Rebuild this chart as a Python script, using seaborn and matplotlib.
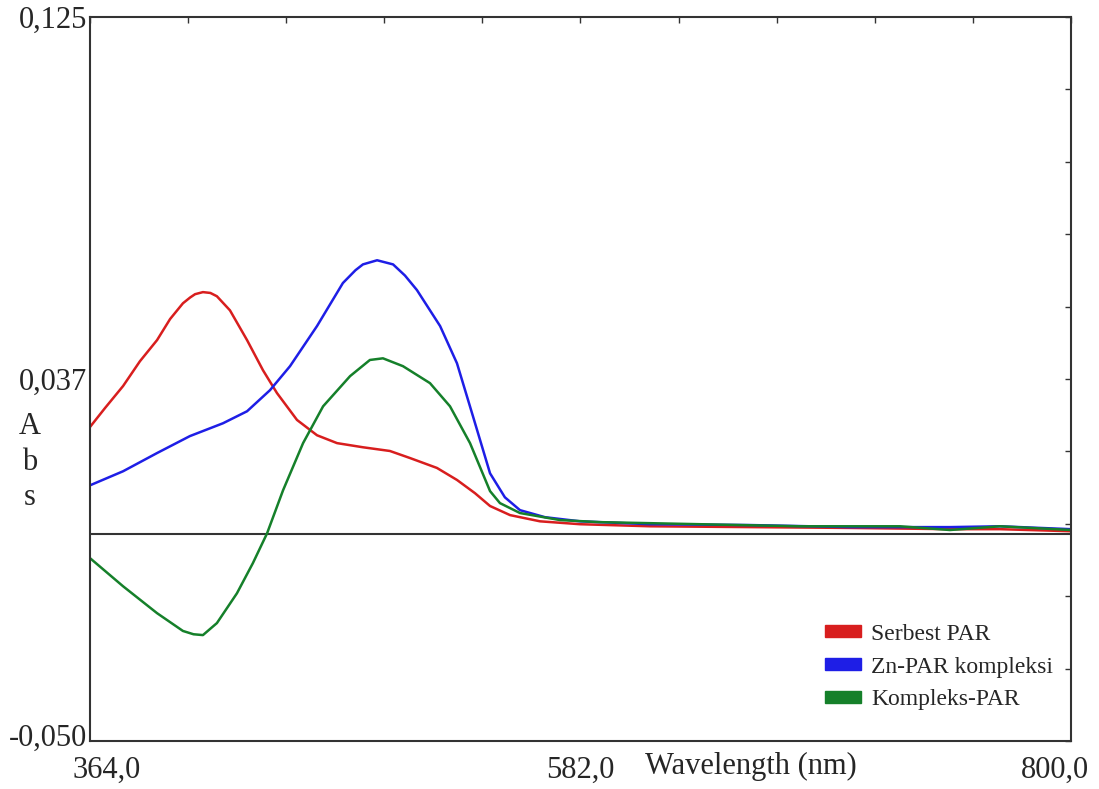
import numpy as np
import pandas as pd
import matplotlib
matplotlib.use("Agg")
import matplotlib.pyplot as plt
import matplotlib.transforms as mtransforms
from matplotlib.patches import Patch
import seaborn as sns

# ---- spectra (wavelength nm, absorbance) ----
red_x = [364.0, 370.7, 378.7, 386.2, 393.8, 399.6, 405.3, 408.5, 410.7, 414.2, 417.5, 420.4,
         426.2, 433.8, 440.9, 447.1, 456.0, 464.9, 473.8, 485.3, 497.3, 506.2,
         518.2, 527.1, 535.1, 541.8, 550.7, 564.0, 581.8, 612.9, 657.3, 701.8,
         746.2, 768.4, 800.0]
red_y = [0.0259, 0.0305, 0.0358, 0.0418, 0.0469, 0.0520, 0.0558, 0.0572, 0.0580, 0.0585, 0.0583, 0.0575,
         0.0541, 0.0469, 0.0396, 0.0341, 0.0276, 0.0239, 0.0220, 0.0210, 0.0201, 0.0184,
         0.0160, 0.0131, 0.0099, 0.0068, 0.0046, 0.0031, 0.0024, 0.0019, 0.0017, 0.0015,
         0.0012, 0.0012, 0.0007]

blue_x = [364.0, 378.7, 393.8, 408.4, 423.1, 433.8, 444.0, 452.9, 464.9, 476.4,
          482.0, 485.3, 491.6, 498.7, 504.0, 509.3, 519.6, 527.1, 534.2, 541.8, 548.4, 555.1,
          566.2, 581.8, 612.9, 657.3, 701.8, 746.2, 768.4, 800.0]
blue_y = [0.0118, 0.0152, 0.0196, 0.0237, 0.0268, 0.0297, 0.0348, 0.0406, 0.0503, 0.0607,
          0.0638, 0.0652, 0.0662, 0.0652, 0.0625, 0.0590, 0.0503, 0.0413, 0.0285, 0.0147, 0.0089, 0.0058,
          0.0041, 0.0031, 0.0024, 0.0022, 0.0017, 0.0017, 0.0019, 0.0012]

green_x = [364.0, 378.7, 393.8, 405.3, 410.0, 414.2, 420.4, 429.3, 436.4, 442.7, 449.8,
           458.7, 467.6, 479.6, 488.4, 494.2, 503.1, 515.1, 524.0, 532.9, 541.8,
           546.2, 555.1, 572.9, 590.7, 635.1, 679.6, 724.0, 746.2, 768.4, 800.0]
green_y = [-0.0058, -0.0126, -0.0191, -0.0234, -0.0242, -0.0244, -0.0215, -0.0143, -0.0070, 0.0002, 0.0106,
           0.0220, 0.0309, 0.0382, 0.0421, 0.0425, 0.0406, 0.0365, 0.0309, 0.0220, 0.0104,
           0.0075, 0.0051, 0.0034, 0.0029, 0.0024, 0.0019, 0.0019, 0.0010, 0.0019, 0.0010]

series_names = ["Serbest PAR", "Zn-PAR kompleksi", "Kompleks-PAR"]
series_colors = ["#d81e1e", "#1e1ee6", "#15802a"]

x_ticks = [364.0 + 43.6 * i for i in range(11)]
x_tick_labels = ["364,0", "", "", "", "", "582,0", "", "", "", "", "800,0"]
y_ticks = [0.125 - 0.0175 * i for i in range(11)]
y_tick_labels = ["0,125", "", "", "", "", "0,037", "", "", "", "", "-0,050"]

# ---- long-form table ----
df = pd.concat([
    pd.DataFrame({"wl": red_x, "abs": red_y, "series": series_names[0]}),
    pd.DataFrame({"wl": blue_x, "abs": blue_y, "series": series_names[1]}),
    pd.DataFrame({"wl": green_x, "abs": green_y, "series": series_names[2]}),
])

sns.set_style("white")
plt.rcParams["font.family"] = ["Liberation Serif", "DejaVu Serif"]

fig = plt.figure(figsize=(10.99, 7.89), dpi=100)
ax = fig.add_axes([90 / 1099, 1 - 741 / 789, 981 / 1099, 724 / 789])

sns.lineplot(data=df, x="wl", y="abs", hue="series", hue_order=series_names,
             palette=dict(zip(series_names, series_colors)), linewidth=1.8,
             legend=False, ax=ax, sort=True)
ax.axhline(0, color="#333333", linewidth=1.5, zorder=1)

ax.set_xlim(364, 800)
ax.set_ylim(-0.050, 0.125)
ax.set_xticks(x_ticks)
ax.set_xticklabels(x_tick_labels, fontsize=22)
ax.set_yticks(y_ticks)
ax.set_yticklabels(y_tick_labels, fontsize=22)
ax.set_xlabel("")
ax.set_ylabel("")
ax.tick_params(direction="in", length=4, width=1, color="#333333",
               top=True, right=True)
ax.tick_params(axis="x", pad=11)
ax.tick_params(axis="y", pad=2)
for s in ax.spines.values():
    s.set_color("#333333")
    s.set_linewidth(1.5)

# nudge the end labels inward like the instrument printout
xl = ax.get_xticklabels()
xl[0].set_transform(xl[0].get_transform() + mtransforms.ScaledTranslation(0.17, 0, fig.dpi_scale_trans))
xl[-1].set_transform(xl[-1].get_transform() + mtransforms.ScaledTranslation(-0.16, 0, fig.dpi_scale_trans))
yl = ax.get_yticklabels()
yl[-1].set_transform(yl[-1].get_transform() + mtransforms.ScaledTranslation(0, 0.06, fig.dpi_scale_trans))

fig.text(751 / 1099, 1 - 766 / 789, "Wavelength (nm)", fontsize=22,
         ha="center", va="center")
fig.text(30 / 1099, 1 - 462 / 789, "A\nb\ns", fontsize=22, ha="center",
         va="center", linespacing=1.3)

handles = [Patch(facecolor=c, edgecolor=c, label=n)
           for n, c in zip(series_names, series_colors)]
ax.legend(handles=handles, loc="lower left", bbox_to_anchor=(0.728, 0.013),
          frameon=False, fontsize=17, handlelength=1.5, handleheight=0.42,
          handletextpad=0.45, labelspacing=0.5)

fig.savefig("out.png", dpi=100, facecolor="white")
